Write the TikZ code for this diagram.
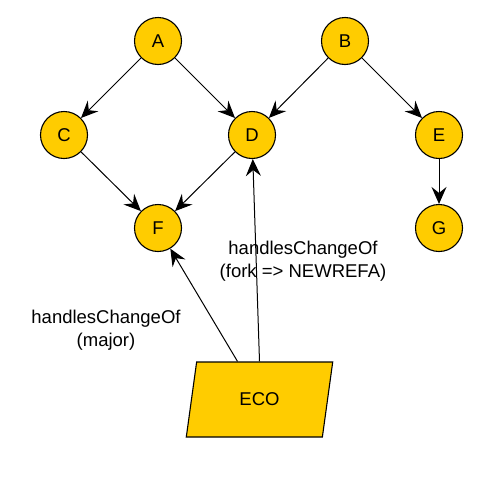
\documentclass[tikz,border=0pt]{standalone}
\usepackage{fontspec}
\setmainfont{Liberation Sans}
\usetikzlibrary{arrows.meta, shapes.geometric}
\definecolor{nodefill}{RGB}{255,204,0}

\begin{document}
\begin{tikzpicture}[x=1pt, y=-1pt,
    font=\fontsize{18.5}{23}\selectfont,
    vertex/.style={circle, draw=black, fill=nodefill, minimum size=47pt, inner sep=0pt, line width=1.1pt},
    ecobox/.style={trapezium, trapezium left angle=79, trapezium right angle=101, trapezium stretches=true,
        draw=black, fill=nodefill, minimum width=147pt, minimum height=75pt, line width=1.1pt},
    edge/.style={-{Stealth[length=17pt,width=15pt,inset=6pt]}, line width=1pt},
    lbl/.style={align=center}]
    \useasboundingbox (0,0) rectangle (502,477);
    % nodes
    \node[vertex] (A) at (158,41) {A};
    \node[vertex] (B) at (345,41) {B};
    \node[vertex] (C) at (64,135) {C};
    \node[vertex] (D) at (252,135) {D};
    \node[vertex] (E) at (439,135) {E};
    \node[vertex] (F) at (158,228) {F};
    \node[vertex] (G) at (439,228) {G};
    % eco
    \node[ecobox] (eco) at (259.5,399.5) {ECO};
    % edges
    \draw[edge] (A) -- (C);
    \draw[edge] (A) -- (D);
    \draw[edge] (B) -- (D);
    \draw[edge] (B) -- (E);
    \draw[edge] (C) -- (F);
    \draw[edge] (D) -- (F);
    \draw[edge] (E) -- (G);
    \draw[edge] (eco.120) -- (F);
    \draw[edge] (eco.north) -- (D);
    % labels
    \node[lbl] (lblD) at (303,261) {handlesChangeOf\\(fork => NEWREFA)};
    \node[lbl] (lblF) at (106,330) {handlesChangeOf\\(major)};
\end{tikzpicture}
\end{document}
